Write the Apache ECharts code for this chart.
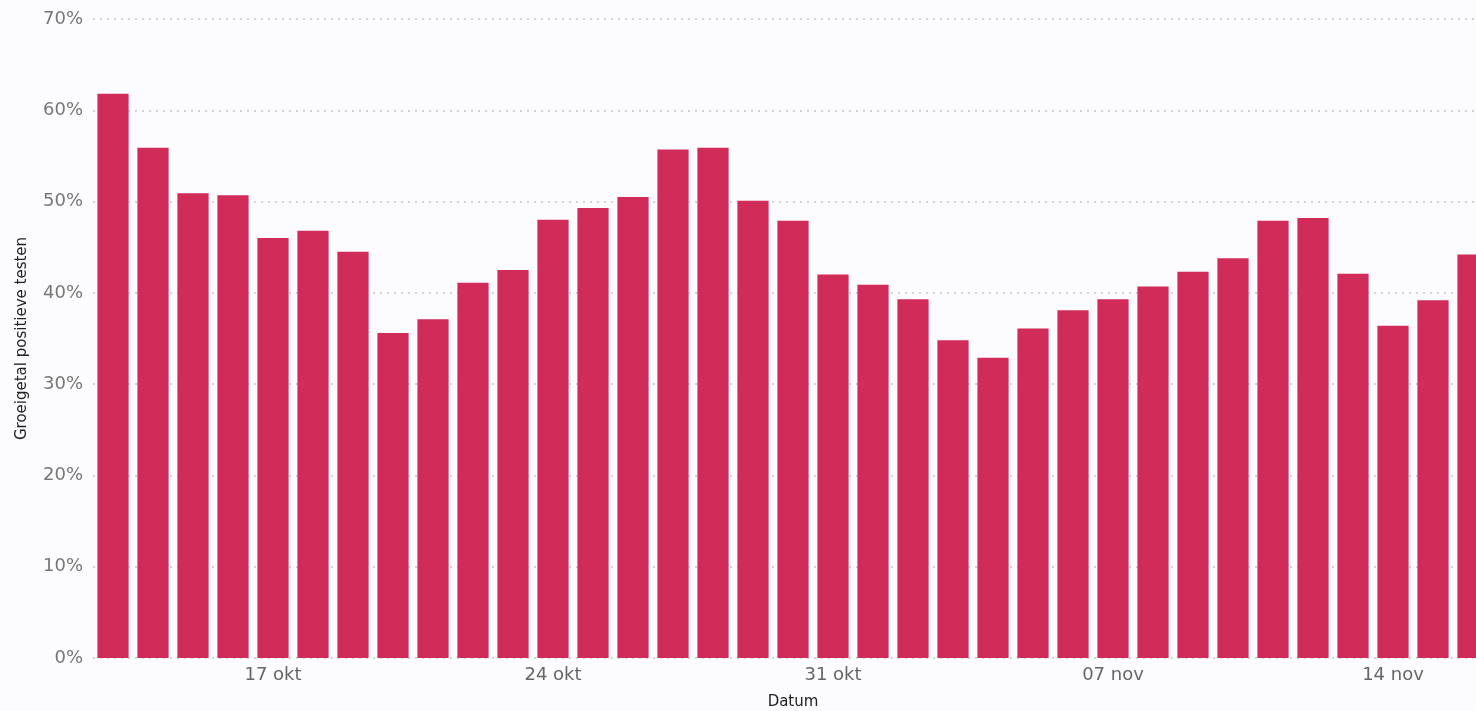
<!DOCTYPE html>
<html>
<head>
<meta charset="utf-8">
<script src="https://cdn.jsdelivr.net/npm/echarts@6/dist/echarts.min.js"></script>
<style>
html,body{margin:0;padding:0;background:#fcfbfd;overflow:hidden;}
#c{width:1476px;height:711px;}
</style>
</head>
<body>
<div id="c"></div>
<script>
const categories = [
  "13 okt","14 okt","15 okt","16 okt","17 okt","18 okt","19 okt","20 okt","21 okt","22 okt",
  "23 okt","24 okt","25 okt","26 okt","27 okt","28 okt","29 okt","30 okt","31 okt",
  "01 nov","02 nov","03 nov","04 nov","05 nov","06 nov","07 nov","08 nov","09 nov","10 nov",
  "11 nov","12 nov","13 nov","14 nov","15 nov","16 nov"
];
const values = [
  61.8, 55.9, 50.9, 50.7, 46.0, 46.8, 44.5, 35.6, 37.1, 41.1,
  42.5, 48.0, 49.3, 50.5, 55.7, 55.9, 50.1, 47.9, 42.0,
  40.9, 39.3, 34.8, 32.9, 36.1, 38.1, 39.3, 40.7, 42.3, 43.8,
  47.9, 48.2, 42.1, 36.4, 39.2, 44.2
];
const shownLabels = ["17 okt","24 okt","31 okt","07 nov","14 nov"];

const chart = echarts.init(document.getElementById('c'));
chart.setOption({
  backgroundColor: '#fcfbfd',
  animation: false,
  grid: { left: 93, top: 19, right: -17, bottom: 53, containLabel: false, outerBoundsMode: 'none' },
  xAxis: {
    type: 'category',
    data: categories,
    name: 'Datum',
    nameLocation: 'middle',
    nameGap: 37,
    nameTextStyle: { color: '#222', fontSize: 15, fontFamily: 'DejaVu Sans' },
    axisLine: { show: false },
    axisTick: { show: false },
    axisLabel: {
      interval: 0,
      formatter: v => shownLabels.includes(v) ? v : '',
      color: '#666', fontSize: 18, fontFamily: 'DejaVu Sans', margin: 8
    }
  },
  yAxis: {
    type: 'value',
    min: 0, max: 70, interval: 10,
    name: 'Groeigetal positieve testen',
    nameLocation: 'middle',
    nameGap: 63,
    nameTextStyle: { color: '#222', fontSize: 15, fontFamily: 'DejaVu Sans' },
    axisLabel: { formatter: '{value}%', color: '#777', fontSize: 18, fontFamily: 'DejaVu Sans', margin: 10 },
    axisLine: { show: false },
    axisTick: { show: false },
    splitLine: { lineStyle: { color: '#c8c8c8', type: [2, 5], width: 1.5 } }
  },
  series: [{
    type: 'bar',
    data: values,
    barCategoryGap: '22%',
    itemStyle: { color: '#d12b5a' }
  }]
});
</script>
</body>
</html>
